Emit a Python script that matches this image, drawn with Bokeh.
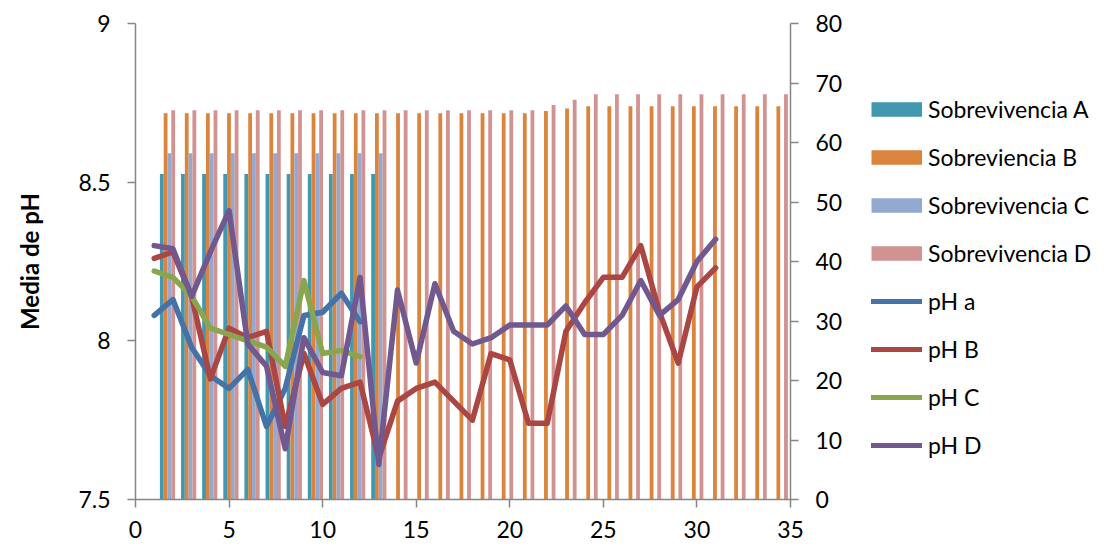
from bokeh.plotting import figure
from bokeh.layouts import row
from bokeh.models import (Range1d, LinearAxis, Legend, LegendItem, ColumnDataSource,
                          FixedTicker, NumeralTickFormatter)
from bokeh.transform import dodge
from bokeh.embed import file_html
from bokeh.resources import INLINE

# ---------------- data ----------------
days_ac = [1, 2, 3, 4, 5, 6, 7, 8, 9, 10, 11, 12]
ph_a = [8.08, 8.13, 7.98, 7.89, 7.85, 7.91, 7.73, 7.85, 8.08, 8.09, 8.15, 8.06]
ph_c = [8.22, 8.20, 8.14, 8.04, 8.02, 8.00, 7.98, 7.92, 8.19, 7.96, 7.97, 7.95]

days_bd = list(range(1, 32))
ph_b = [8.26, 8.28, 8.14, 7.88, 8.04, 8.01, 8.03, 7.73, 7.96, 7.80, 7.85, 7.87, 7.63,
        7.81, 7.85, 7.87, 7.81, 7.75, 7.96, 7.94, 7.74, 7.74, 8.03, 8.12, 8.20, 8.20,
        8.30, 8.09, 7.93, 8.17, 8.23]
ph_d = [8.30, 8.29, 8.14, 8.28, 8.41, 7.99, 7.92, 7.66, 8.01, 7.90, 7.89, 8.20, 7.61,
        8.16, 7.93, 8.18, 8.03, 7.99, 8.01, 8.05, 8.05, 8.05, 8.11, 8.02, 8.02, 8.08,
        8.19, 8.08, 8.13, 8.25, 8.32]

cat_ac = [1, 2, 3, 4, 5, 6, 7, 8, 9, 10, 11]
surv_a = [54.7, 54.7, 54.7, 54.7, 54.7, 54.7, 54.7, 54.7, 54.7, 54.7, 54.7]
surv_c = [58.2, 58.2, 58.2, 58.2, 58.2, 58.2, 58.2, 58.2, 58.2, 58.2, 58.2]

cat_bd = list(range(1, 31))
surv_b = [64.9, 64.9, 64.9, 64.9, 64.9, 64.9, 64.9, 64.9, 64.9, 64.9, 64.9, 64.9,
          64.9, 64.9, 64.9, 64.9, 64.9, 64.9, 65.3, 65.7, 66.1, 66.1, 66.1, 66.1,
          66.1, 66.1, 66.1, 66.1, 66.1, 66.1]
surv_d = [65.4, 65.4, 65.4, 65.4, 65.4, 65.4, 65.4, 65.4, 65.4, 65.4, 65.4, 65.4,
          65.4, 65.4, 65.4, 65.4, 65.4, 65.4, 66.3, 67.2, 68.1, 68.1, 68.1, 68.1,
          68.1, 68.1, 68.1, 68.1, 68.1, 68.1]

x_ticks = [0, 5, 10, 15, 20, 25, 30, 35]
ph_ticks = [7.5, 8, 8.5, 9]
surv_ticks = [0, 10, 20, 30, 40, 50, 60, 70, 80]

bar_labels = ["Sobrevivencia A", "Sobreviencia B", "Sobrevivencia C", "Sobrevivencia D"]
line_labels = ["pH a", "pH B", "pH C", "pH D"]

# ---------------- style ----------------
FONT = "Lato"
AXIS_COL = "#868686"
BAR_COLS = ["#4198AF", "#DB843D", "#93A9CF", "#D19392"]
LINE_COLS = ["#4572A7", "#AA4643", "#89A54E", "#71588F"]
BAR_W = 0.18
BAR_OFF = [0.245, 0.425, 0.605, 0.785]

p = figure(width=862, height=546, output_backend="svg", toolbar_location=None,
           x_range=Range1d(0, 35), y_range=Range1d(7.5, 9),
           min_border_left=135, min_border_right=72, min_border_top=23,
           min_border_bottom=47)
p.extra_y_ranges = {"surv": Range1d(0, 80)}
p.extra_x_ranges = {"cat": Range1d(0, 31)}
p.grid.visible = False
p.outline_line_color = None
p.background_fill_color = "white"
p.border_fill_color = "white"


def style_axis(ax, standoff):
    ax.axis_line_color = AXIS_COL
    ax.axis_line_width = 1.5
    ax.major_tick_line_color = AXIS_COL
    ax.major_tick_line_width = 1.5
    ax.major_tick_out = 8
    ax.major_tick_in = 0
    ax.minor_tick_line_color = None
    ax.major_label_text_font = FONT
    ax.major_label_text_font_size = "23px"
    ax.major_label_text_color = "#000000"
    ax.major_label_standoff = standoff


xax = p.xaxis[0]
xax.ticker = FixedTicker(ticks=x_ticks)
style_axis(xax, 13)

yax = p.yaxis[0]
yax.ticker = FixedTicker(ticks=ph_ticks)
yax.formatter = NumeralTickFormatter(format="0.[0]")
style_axis(yax, 17)
yax.axis_label = "Media de pH"
yax.axis_label_text_font = FONT
yax.axis_label_text_font_style = "bold"
yax.axis_label_text_font_size = "24px"
yax.axis_label_text_color = "#000000"
yax.axis_label_standoff = 31

rax = LinearAxis(y_range_name="surv", ticker=FixedTicker(ticks=surv_ticks))
style_axis(rax, 17)
p.add_layout(rax, "right")

# ---------------- bars ----------------
bar_sets = [(cat_ac, surv_a), (cat_bd, surv_b), (cat_ac, surv_c), (cat_bd, surv_d)]
for (cats, vals), col, off in zip(bar_sets, BAR_COLS, BAR_OFF):
    src = ColumnDataSource(dict(cat=cats, v=vals))
    p.vbar(x=dodge("cat", off), top="v", bottom=0, width=BAR_W, source=src,
           x_range_name="cat", y_range_name="surv",
           fill_color=col, line_color=None)

# ---------------- lines ----------------
line_sets = [(days_ac, ph_a), (days_bd, ph_b), (days_ac, ph_c), (days_bd, ph_d)]
for (xs, ys), col in zip(line_sets, LINE_COLS):
    p.line(xs, ys, line_width=5.5, line_color=col, line_cap="round", line_join="round")

# ---------------- legend (own panel to the right) ----------------
# The legend panel's ranges (0..1) lie outside every data value, so the series
# drawn here only supply legend swatches and stay out of view.
lg = figure(width=242, height=546, output_backend="svg", toolbar_location=None,
            x_range=Range1d(0, 1), y_range=Range1d(0, 1),
            x_axis_location=None, y_axis_location=None,
            min_border_left=0, min_border_right=0, min_border_top=0, min_border_bottom=0)
lg.grid.visible = False
lg.outline_line_color = None
lg.background_fill_color = "white"
lg.border_fill_color = "white"

items = []
for lab, col, (cats, vals) in zip(bar_labels, BAR_COLS, bar_sets):
    r = lg.line(x=cats, y=vals, line_width=14.3, line_color=col, line_cap="butt")
    items.append(LegendItem(label=lab, renderers=[r]))
for lab, col, (xs, ys) in zip(line_labels, LINE_COLS, line_sets):
    r = lg.line(x=xs, y=ys, line_width=5, line_color=col, line_cap="round")
    items.append(LegendItem(label=lab, renderers=[r]))

legend = Legend(items=items, location=(9, 39.25), glyph_width=51, glyph_height=30,
                label_height=30, spacing=18, padding=0, margin=0,
                border_line_color=None, background_fill_alpha=0,
                label_text_font=FONT, label_text_font_size="23px",
                label_text_color="#000000", label_standoff=6)
lg.add_layout(legend)

layout = row(p, lg)
open("out.html", "w").write(file_html(layout, INLINE))
